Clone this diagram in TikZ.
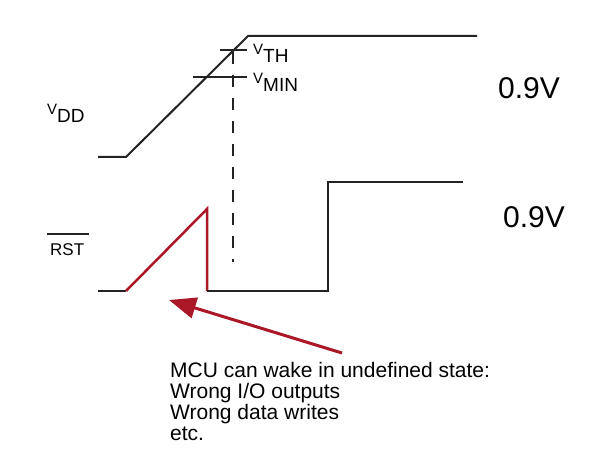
\documentclass[tikz,border=0pt]{standalone}
\usepackage{fontspec}
\setmainfont{Liberation Sans}
\usepackage{xcolor}
\usepackage{tikz}
\usetikzlibrary{arrows.meta,calc}
\definecolor{wavered}{RGB}{170,24,40}
\definecolor{wavegray}{RGB}{35,35,35}
\newcommand{\vsub}[1]{{\fontsize{15}{15}\selectfont\raisebox{8pt}{V}}{\fontsize{19}{19}\selectfont #1}}

\tikzset{
  wave/.style={draw=wavegray, line width=2pt},
  badwave/.style={draw=wavered, line width=2.5pt},
  lbl/.style={inner sep=0pt, anchor=base west},
}

\begin{document}
\begin{tikzpicture}[x=1pt,y=-1pt]
  \fill[white] (0,0) rectangle (608,457);
  \useasboundingbox (0,0) rectangle (608,457);

  % VDD ramp
  \coordinate (vlo) at (98,157);
  \coordinate (vrise) at (126,157);
  \coordinate (vtop) at (248,36);
  \coordinate (vend) at (477,36);
  \draw[wave] (vlo) -- (vrise) -- (vtop) -- (vend);
  \draw[wave] (220,50) coordinate (th1) -- (247,50) coordinate (th2);
  \draw[wave] (193,77) coordinate (mn1) -- (247,77) coordinate (mn2);
  \draw[wave, dash pattern=on 12pt off 11pt] (233,52) coordinate (d1) -- (233,262) coordinate (d2);

  % RST
  \coordinate (rlo) at (98,291);
  \coordinate (rrise) at (126,291);
  \coordinate (rpeak) at (207,209);
  \coordinate (rdrop) at (207,291);
  \coordinate (rup) at (328,291);
  \coordinate (rhigh) at (328,182);
  \coordinate (rend) at (463,182);
  \draw[wave] (rlo) -- (rrise);
  \draw[badwave] (rrise) -- (rpeak) -- (rdrop); % glitch
  \draw[wave] (rdrop) -- (rup) -- (rhigh) -- (rend);

  % labels
  \node[lbl] (vdd) at (47,123) {\vsub{DD}};
  \node[lbl] (vth) at (253,63) {\vsub{TH}};
  \node[lbl] (vmin) at (253,92) {\vsub{MIN}};
  \node[lbl, font=\fontsize{17}{17}\selectfont] (rst) at (50,255) {RST};
  \draw[wavegray, line width=1.5pt] ([xshift=-3pt,yshift=9pt]rst.north west) -- ([xshift=5pt,yshift=9pt]rst.north east);
  \node[lbl, font=\fontsize{30}{30}\selectfont] (vhi) at (498,99) {0.9V};
  \node[lbl, font=\fontsize{30}{30}\selectfont] (rhi) at (503,228) {0.9V};

  \node[inner sep=0pt, anchor=north west, align=left, font=\fontsize{21}{21}\selectfont] (note) at (170,362)
    {MCU can wake in undefined state:\\Wrong I/O outputs\\Wrong data writes\\etc.};
  \coordinate (tail) at (342,353);
  \coordinate (tip) at (169,300);
  \draw[wavered, line width=3pt, -{Triangle[length=27pt,width=21pt]}] (tail) -- (tip);
\end{tikzpicture}
\end{document}
